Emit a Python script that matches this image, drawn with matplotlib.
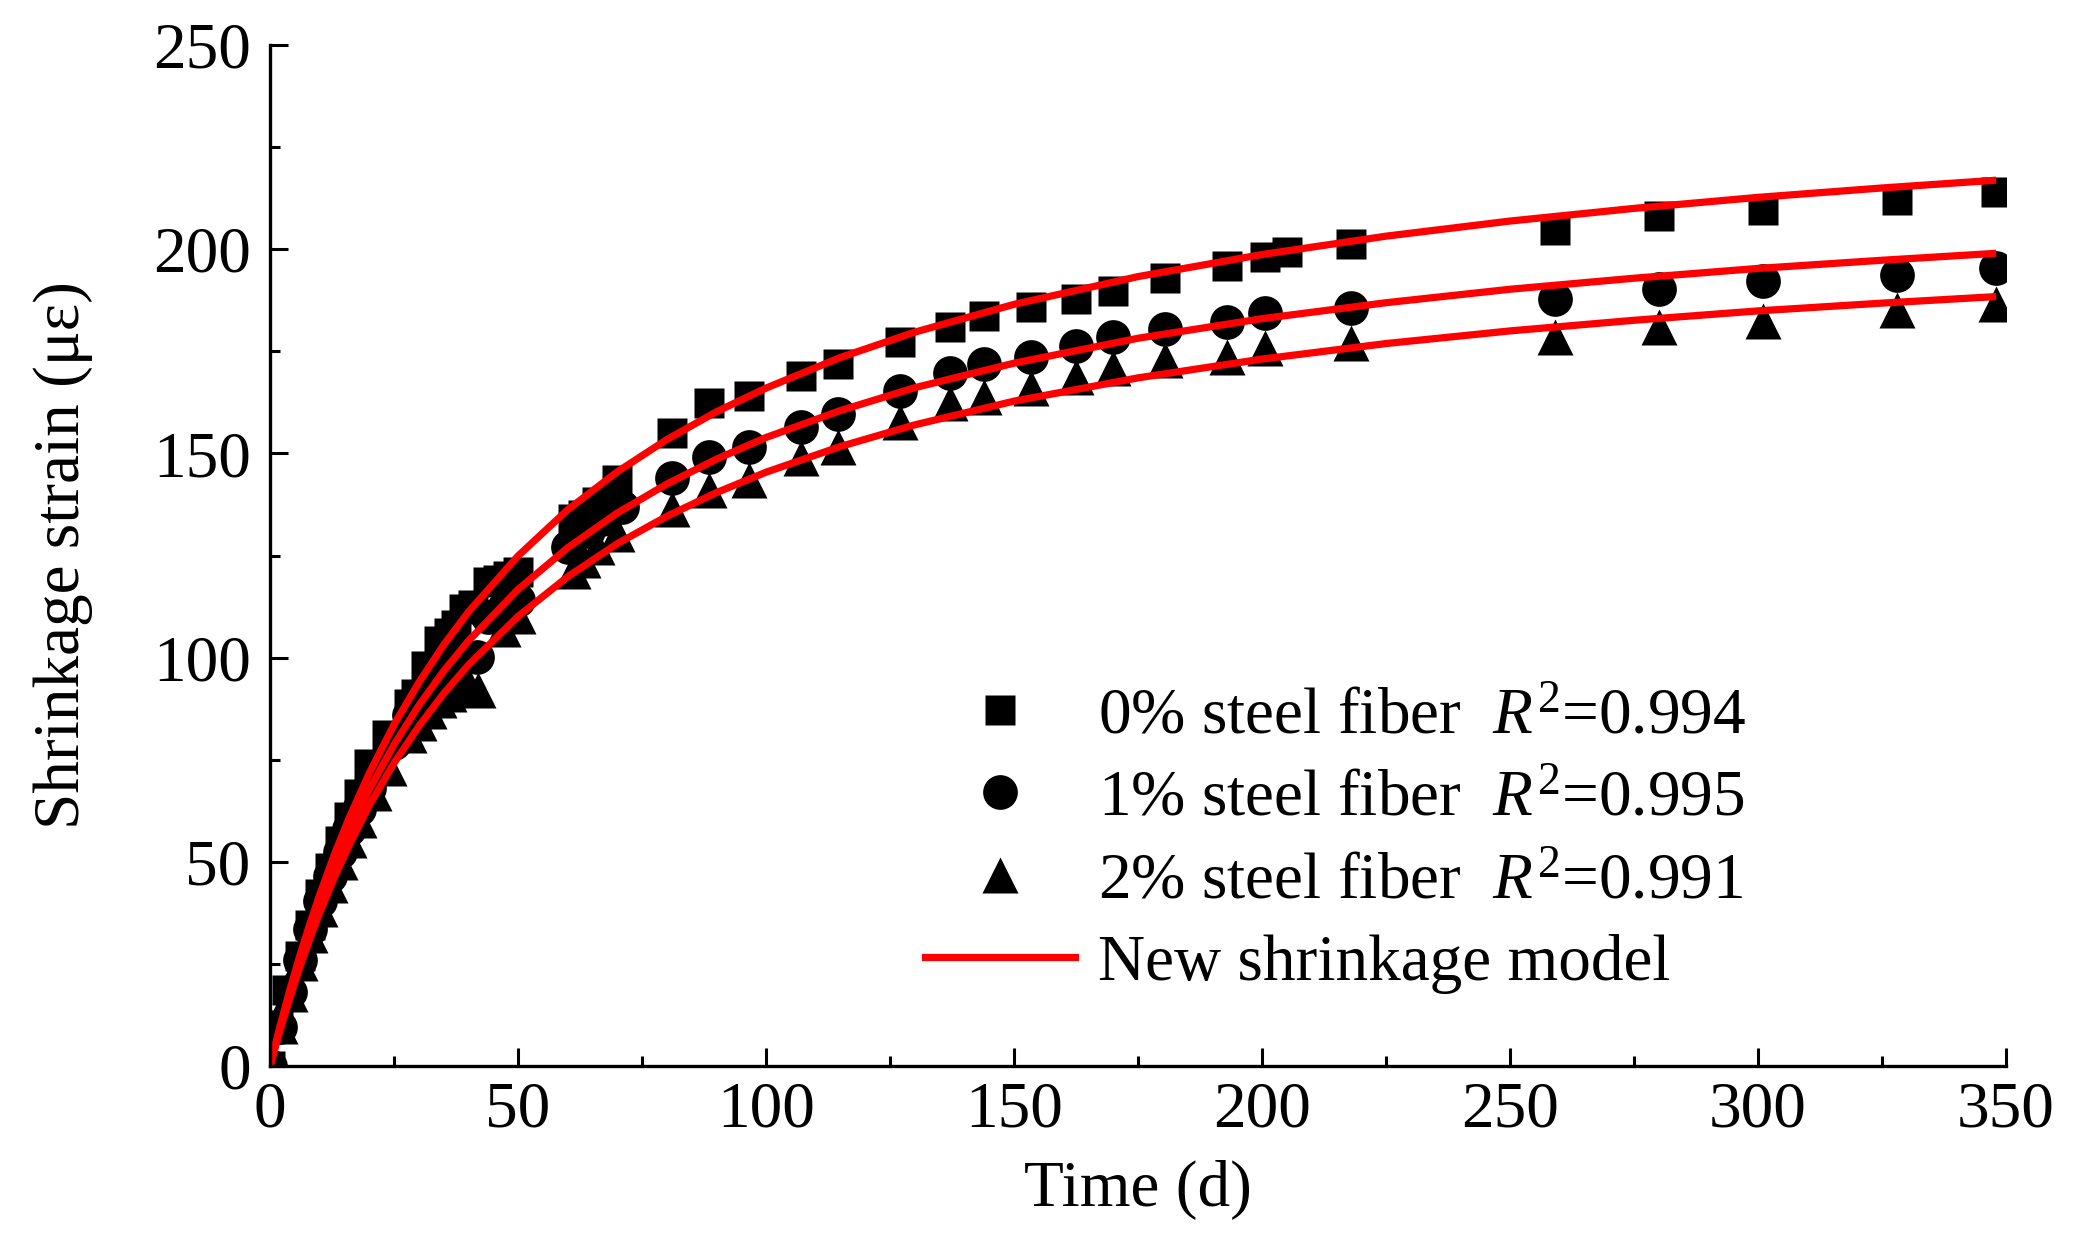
import matplotlib
matplotlib.use("Agg")
import matplotlib.pyplot as plt
from matplotlib.lines import Line2D

plt.rcParams['font.family'] = ['Liberation Serif', 'DejaVu Serif']
plt.rcParams['mathtext.fontset'] = 'custom'
plt.rcParams['mathtext.rm'] = 'Liberation Serif'
plt.rcParams['mathtext.it'] = 'Liberation Serif:italic'

# measured points, 0 % steel fiber (squares)
days_0 = [0, 1.5, 3.5, 6, 8, 10, 12, 14, 16, 18, 20, 23.5, 28, 29.5, 31.5, 34, 36, 37.5, 39, 41,
          44, 46, 48, 50, 61, 63, 66, 70, 81, 88.5, 96.5, 107, 114.5, 127, 137, 144, 153.5, 162.5,
          170, 180.5, 193, 200.5, 205, 218, 259, 280, 301, 328, 348]
vals_0 = [0, 10, 18.5, 27, 34.5, 42, 48.5, 55, 61, 66.5, 74, 81, 88.7, 91, 98, 104, 106, 108, 112, 113,
          118.5, 119, 120, 121, 134, 135, 138, 143.6, 155, 162.3, 164, 169, 172, 177.4, 181, 183.6, 185.8, 187.8,
          189.7, 193, 196, 198, 199.4, 201.3, 204.7, 208.2, 209.6, 212, 214]

# 1 % steel fiber (circles)
days_1 = [0, 2, 4, 6, 8, 10, 12, 14, 16, 18, 20, 22, 25, 28, 30, 32, 34, 36, 38, 41.7,
          44, 47, 50, 60, 64, 67, 71, 81, 88.5, 96.5, 107, 114.5, 127, 137, 144, 153.5, 162.5,
          170, 180.5, 193, 200.5, 218, 259, 280, 301, 328, 348]
vals_1 = [0, 9.5, 18, 26, 33.5, 40.5, 46.5, 52.5, 58, 63, 68, 73, 79, 86, 90, 93, 96, 98.5, 99.5, 100.2,
          110, 112, 114, 127.2, 131, 134, 137, 143.9, 149.2, 151.6, 156.4, 159.7, 165.4, 169.8, 171.9, 173.7, 176.2,
          178.4, 180.5, 182.3, 184.3, 185.6, 187.8, 190.3, 192.3, 193.7, 195.4]

# 2 % steel fiber (triangles)
days_2 = [1, 2, 4, 6, 8, 10, 12, 14, 16, 18, 21, 24, 28, 30, 32, 34, 36, 38, 40, 42,
          47, 50, 61, 63, 66, 70, 81, 88.5, 96.5, 107, 114.5, 127, 137, 144, 153.5, 162.5,
          170, 180.5, 193, 200.5, 218, 259, 280, 301, 328, 348]
vals_2 = [0, 9.9, 17.6, 25.1, 32, 38.4, 44.3, 50, 55.4, 60.3, 66.8, 73, 81, 84, 87, 89.5, 91, 92.5, 93.5, 92,
          107, 110.3, 121.3, 124, 127, 130.3, 136.5, 141, 143.5, 148.8, 151.6, 157.8, 162.3, 163.9, 166, 168.8,
          170.8, 172.9, 173.7, 175.7, 177, 178.6, 181, 182.5, 185, 186.6]

# model curves
model_t = [0, 1, 2, 4, 6, 8, 10, 13, 16, 20, 25, 30, 35, 40, 50, 60, 70, 80, 90, 100,
           115, 130, 150, 175, 200, 225, 250, 275, 300, 325, 348]
model_0 = [0, 4.9, 9.7, 18.7, 27.0, 34.7, 41.9, 51.9, 60.9, 71.7, 83.6, 93.9, 103.1, 111.2, 124.9, 136.2,
           145.5, 153.4, 160.2, 166.0, 173.5, 179.7, 186.5, 193.3, 198.7, 203.2, 206.9, 210.0, 212.7, 215.0, 216.9]
model_1 = [0, 4.7, 9.3, 17.8, 25.7, 33.0, 39.8, 49.1, 57.6, 67.7, 78.7, 88.3, 96.7, 104.1, 116.7, 126.9,
           135.4, 142.5, 148.6, 153.9, 160.5, 166.1, 172.1, 178.2, 183.0, 186.9, 190.2, 192.9, 195.3, 197.3, 199.0]
model_2 = [0, 4.4, 8.7, 16.7, 24.2, 31.1, 37.5, 46.3, 54.2, 63.8, 74.2, 83.2, 91.2, 98.2, 110.1, 119.8,
           127.9, 134.6, 140.4, 145.4, 151.7, 157.0, 162.8, 168.5, 173.1, 176.9, 180.0, 182.6, 184.9, 186.8, 188.4]

labels = ['0% steel fiber  $R^2$=0.994', '1% steel fiber  $R^2$=0.995', '2% steel fiber  $R^2$=0.991']

fig = plt.figure(figsize=(20.84, 12.44), dpi=100)
ax = fig.add_axes([0.1296, 0.1431, 0.833, 0.8207])

ax.plot(days_0, vals_0, 's', color='black', ms=22, mec='none')
ax.plot(days_1, vals_1, 'o', color='black', ms=25, mec='none')
ax.plot(days_2, vals_2, '^', color='black', ms=26, mec='none')
for m in (model_0, model_1, model_2):
    ax.plot(model_t, m, '-', color='#ff0000', lw=5.2, solid_capstyle='butt')

ax.set_xlim(0, 350)
ax.set_ylim(0, 250)
ax.set_xticks(range(0, 351, 50))
ax.set_xticks(range(25, 351, 50), minor=True)
ax.set_yticks(range(0, 251, 50))
ax.set_yticks(range(25, 251, 50), minor=True)
ax.spines['top'].set_visible(False)
ax.spines['right'].set_visible(False)
for s in ('left', 'bottom'):
    ax.spines[s].set_linewidth(2.4)
ax.tick_params(which='major', direction='in', length=13, width=2.2, labelsize=47)
ax.tick_params(which='minor', direction='in', length=7, width=2.2)
ax.tick_params(axis='x', which='major', pad=11)
ax.tick_params(axis='y', which='major', pad=14)

ax.set_xlabel('Time (d)', fontsize=47, labelpad=14)
ax.set_ylabel('Shrinkage strain (με)', fontsize=47, labelpad=43)

handles = [Line2D([], [], ls='none', marker='s', color='black', ms=22, mec='none'),
           Line2D([], [], ls='none', marker='o', color='black', ms=25, mec='none'),
           Line2D([], [], ls='none', marker='^', color='black', ms=26, mec='none'),
           Line2D([], [], color='#ff0000', lw=5.2)]
fig.legend(handles, labels + ['New shrinkage model'], loc='upper left',
           bbox_to_anchor=(0.444, 0.448), frameon=False, fontsize=47,
           handlelength=2.3, handletextpad=0.35, labelspacing=0.35, borderpad=0,
           borderaxespad=0)

fig.savefig('out.png', dpi=100)
